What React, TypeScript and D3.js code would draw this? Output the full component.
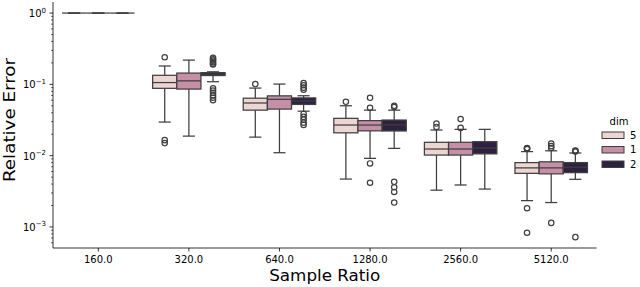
import { useRef, useEffect } from "react";
import * as d3 from "d3";

// categories on the x axis
const sampleRatios = ["160.0", "320.0", "640.0", "1280.0", "2560.0", "5120.0"];
const dims = ["5", "1", "2"];
const dimColors = ["#ecd5d2", "#c48fa7", "#2e2140"];

// box stats per sample ratio: [whiskerLow, q1, median, q3, whiskerHigh]
const dim5Stats = [
  [1, 1, 1, 1, 1],
  [0.0296, 0.088, 0.106, 0.134, 0.181],
  [0.0182, 0.0435, 0.0548, 0.064, 0.0887],
  [0.0047, 0.0209, 0.0269, 0.0334, 0.0501],
  [0.00328, 0.0102, 0.0124, 0.0154, 0.0229],
  [0.00234, 0.00565, 0.00674, 0.00799, 0.0114],
];
const dim1Stats = [
  [1, 1, 1, 1, 1],
  [0.0188, 0.0859, 0.112, 0.144, 0.219],
  [0.011, 0.045, 0.0617, 0.069, 0.101],
  [0.00917, 0.0223, 0.0269, 0.031, 0.0435],
  [0.00388, 0.0102, 0.0124, 0.0154, 0.0234],
  [0.0022, 0.00556, 0.00674, 0.0082, 0.0117],
];
const dim2Stats = [
  [1, 1, 1, 1, 1],
  [0.109, 0.133, 0.139, 0.146, 0.15],
  [0.0421, 0.0523, 0.0585, 0.0646, 0.0693],
  [0.01265, 0.0222, 0.027, 0.0316, 0.0435],
  [0.0034, 0.0106, 0.0128, 0.0157, 0.0234],
  [0.00466, 0.00578, 0.0069, 0.008, 0.0109],
];

// fliers per sample ratio
const dim5Outliers = [
  [],
  [0.24, 0.0165, 0.015],
  [0.101],
  [0.057],
  [0.0282, 0.0253],
  [0.0128, 0.0126, 0.0124, 0.00183, 0.00083],
];
const dim1Outliers = [
  [],
  [],
  [],
  [0.0648, 0.047, 0.00778, 0.00417],
  [0.0326, 0.0245],
  [0.0148, 0.0136, 0.0128, 0.00114],
];
const dim2Outliers = [
  [],
  [0.235, 0.225, 0.215, 0.205, 0.195, 0.19, 0.088, 0.082, 0.076, 0.07, 0.065, 0.06],
  [0.104, 0.097, 0.09, 0.084, 0.0385, 0.035, 0.032, 0.029, 0.027],
  [0.05, 0.048, 0.0043, 0.0036, 0.0031, 0.0022],
  [],
  [0.0118, 0.0116, 0.0114, 0.00072],
];

const statsByDim = [dim5Stats, dim1Stats, dim2Stats];
const outliersByDim = [dim5Outliers, dim1Outliers, dim2Outliers];
const yTickExponents = [0, -1, -2, -3];

const width = 640;
const height = 287;
const font = "DejaVu Sans, sans-serif";
const edge = "#3f3f3f";

export default function App() {
  const svgRef = useRef<SVGSVGElement>(null);

  useEffect(() => {
    document.body.style.margin = "0";
    if (!svgRef.current) return;
    const svg = d3.select(svgRef.current);
    svg.selectAll("*").remove();

    const left = 53;
    const right = 596.5;
    const top = 2;
    const bottom = 248;

    const x = d3.scaleBand().domain(sampleRatios).range([left, right]);
    const step = x.step();
    const xh = d3
      .scaleBand()
      .domain(dims)
      .range([step * 0.1, step * 0.9]);
    const y = d3.scaleLog().domain([5.07e-4, 1.43]).range([bottom, top]);

    const g = svg.append("g");

    // boxes
    dims.forEach((dim, di) => {
      const color = dimColors[di];
      sampleRatios.forEach((cat, ci) => {
        const [wl, q1, med, q3, wh] = statsByDim[di][ci];
        const x0 = (x(cat) ?? 0) + (xh(dim) ?? 0);
        const bw = xh.bandwidth();
        const cx = x0 + bw / 2;
        const cap = bw / 4;
        const bg = g.append("g");

        bg.append("line")
          .attr("x1", cx).attr("x2", cx)
          .attr("y1", y(q1)).attr("y2", y(wl))
          .attr("stroke", edge).attr("stroke-width", 1.25);
        bg.append("line")
          .attr("x1", cx).attr("x2", cx)
          .attr("y1", y(q3)).attr("y2", y(wh))
          .attr("stroke", edge).attr("stroke-width", 1.25);
        [wl, wh].forEach((v) => {
          bg.append("line")
            .attr("x1", cx - cap).attr("x2", cx + cap)
            .attr("y1", y(v)).attr("y2", y(v))
            .attr("stroke", edge).attr("stroke-width", 1.25);
        });
        bg.append("rect")
          .attr("x", x0)
          .attr("width", bw)
          .attr("y", y(q3))
          .attr("height", y(q1) - y(q3))
          .attr("fill", color)
          .attr("stroke", edge)
          .attr("stroke-width", 1.25);
        bg.append("line")
          .attr("x1", x0).attr("x2", x0 + bw)
          .attr("y1", y(med)).attr("y2", y(med))
          .attr("stroke", edge).attr("stroke-width", 1.25);

        outliersByDim[di][ci].forEach((v) => {
          bg.append("circle")
            .attr("cx", cx)
            .attr("cy", y(v))
            .attr("r", 2.7)
            .attr("fill", "none")
            .attr("stroke", edge)
            .attr("stroke-width", 1.2);
        });
      });
    });

    // spines
    g.append("line")
      .attr("x1", left).attr("x2", left)
      .attr("y1", top).attr("y2", bottom)
      .attr("stroke", "#000").attr("stroke-width", 0.8);
    g.append("line")
      .attr("x1", left).attr("x2", right)
      .attr("y1", bottom).attr("y2", bottom)
      .attr("stroke", "#000").attr("stroke-width", 0.8);

    // x ticks
    sampleRatios.forEach((cat) => {
      const cx = (x(cat) ?? 0) + step / 2;
      g.append("line")
        .attr("x1", cx).attr("x2", cx)
        .attr("y1", bottom).attr("y2", bottom + 3.5)
        .attr("stroke", "#000").attr("stroke-width", 0.8);
      g.append("text")
        .attr("x", cx)
        .attr("y", bottom + 15)
        .attr("text-anchor", "middle")
        .attr("font-family", font)
        .attr("font-size", "10px")
        .text(cat);
    });

    // y minor ticks
    const [dLo, dHi] = y.domain();
    for (let e = -4; e <= 0; e++) {
      for (let m = 2; m <= 9; m++) {
        const v = m * Math.pow(10, e);
        if (v < dLo || v > dHi) continue;
        g.append("line")
          .attr("x1", left - 2).attr("x2", left)
          .attr("y1", y(v)).attr("y2", y(v))
          .attr("stroke", "#000").attr("stroke-width", 0.6);
      }
    }

    // y major ticks
    yTickExponents.forEach((e) => {
      const ty = y(Math.pow(10, e));
      g.append("line")
        .attr("x1", left - 3.5).attr("x2", left)
        .attr("y1", ty).attr("y2", ty)
        .attr("stroke", "#000").attr("stroke-width", 0.8);
      const t = g
        .append("text")
        .attr("x", left - 7)
        .attr("y", ty + 4)
        .attr("text-anchor", "end")
        .attr("font-family", font)
        .attr("font-size", "10px");
      t.append("tspan").text("10");
      t.append("tspan")
        .attr("dy", -4.5)
        .attr("font-size", "7px")
        .text(e === 0 ? "0" : `\u2212${-e}`);
    });

    // axis labels
    svg.append("text")
      .attr("x", (left + right) / 2)
      .attr("y", 281)
      .attr("text-anchor", "middle")
      .attr("font-family", font)
      .attr("font-size", "16px")
      .attr("textLength", 111)
      .attr("lengthAdjust", "spacingAndGlyphs")
      .text("Sample Ratio");

    svg.append("text")
      .attr("transform", `translate(15,${120}) rotate(-90)`)
      .attr("text-anchor", "middle")
      .attr("font-family", font)
      .attr("font-size", "16px")
      .attr("textLength", 124)
      .attr("lengthAdjust", "spacingAndGlyphs")
      .text("Relative Error");

    // legend
    const lg = svg.append("g").attr("transform", "translate(602,0)");
    lg.append("text")
      .attr("x", 17)
      .attr("y", 125)
      .attr("text-anchor", "middle")
      .attr("font-family", font)
      .attr("font-size", "10px")
      .text("dim");
    dims.forEach((dim, i) => {
      const ly = 135 + i * 14.5;
      lg.append("rect")
        .attr("x", 0)
        .attr("y", ly - 3)
        .attr("width", 22)
        .attr("height", 6.5)
        .attr("fill", dimColors[i])
        .attr("stroke", edge)
        .attr("stroke-width", 1);
      lg.append("text")
        .attr("x", 28)
        .attr("y", ly + 3.5)
        .attr("font-family", font)
        .attr("font-size", "10px")
        .text(dim);
    });
  }, []);

  return (
    <svg
      ref={svgRef}
      width={width}
      height={height}
      style={{ position: "absolute", left: 0, top: 0, background: "#fff" }}
      role="img"
      aria-label="Box plot of relative error by sample ratio and dim"
    />
  );
}
